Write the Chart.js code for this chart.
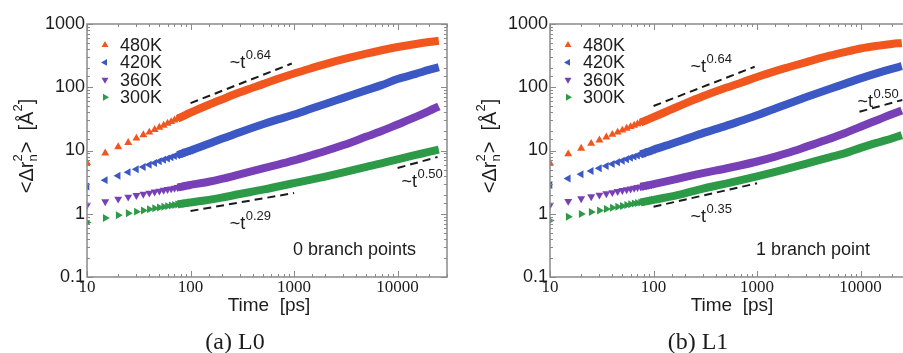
<!DOCTYPE html>
<html><head><meta charset="utf-8">
<script src="https://cdn.jsdelivr.net/npm/chart.js@4/dist/chart.umd.min.js"></script>
<style>
html,body{margin:0;padding:0;background:#fff;overflow:hidden;width:903px;height:353px;}
#wrap{position:relative;width:903px;height:353px;overflow:hidden;background:#fff;}
.pane{position:absolute;top:0;width:452px;height:353px;}
</style></head><body>
<div id="wrap">
<div class="pane" style="left:0px"><canvas id="c0" width="452" height="353"></canvas></div>
<div class="pane" style="left:463px"><canvas id="c1" width="452" height="353"></canvas></div>
</div>
<script>
// ---------- data ----------
const seriesLabels = ['480K', '420K', '360K', '300K'];
const time = [10,15,20,25,30,35,40,45,50,55,60,65,70,75,80,85,90,95,100,
              150,200,300,500,700,1000,1500,2000,3000,5000,7000,10000,15000,20000,25000];
// Panel (a) L0
const L0_480 = [6.4,9.1,11.4,13.3,15.6,17.6,19.4,21.4,23.2,25.0,26.8,28.5,30.2,31.9,33.5,35.1,36.7,38.3,39.8,
                53,64,83,112,136,165,202,232,278,341,385,432,484,518,542];
const L0_420 = [2.7,3.4,4.0,4.55,5.05,5.5,5.95,6.35,6.75,7.15,7.5,7.85,8.2,8.5,8.8,9.15,9.45,9.75,10.0,
                12.8,15.3,19.5,26,31,37,46.5,54.5,68,90,108,135,163,188,208];
const L0_360 = [1.37,1.56,1.71,1.84,1.95,2.04,2.13,2.22,2.29,2.36,2.43,2.49,2.55,2.61,2.66,2.72,2.77,2.82,2.86,
                3.2,3.55,4.2,5.2,6.0,7.0,8.5,9.8,12.2,16.6,20.3,25.8,34,42,50];
const L0_300 = [0.73,0.86,0.95,1.02,1.08,1.13,1.18,1.22,1.26,1.29,1.32,1.35,1.38,1.40,1.43,1.45,1.47,1.49,1.51,
                1.66,1.80,2.05,2.4,2.7,3.05,3.5,3.87,4.5,5.5,6.25,7.25,8.5,9.5,10.3];
// Panel (b) L1
const L1_480 = [6.3,8.8,10.8,12.9,14.6,16.3,17.9,19.4,20.9,22.3,23.7,25.0,26.3,27.6,28.9,30.1,31.3,32.5,33.7,
                45,55,72,98,118,145,180,207,250,315,360,410,455,483,500];
const L1_420 = [2.85,3.6,4.2,4.75,5.25,5.7,6.1,6.5,6.9,7.3,7.65,8.0,8.35,8.7,9.0,9.35,9.65,9.95,10.3,
                12.8,15,18.8,24.5,29.5,36,46,55,70,94,113,138,170,195,215];
const L1_360 = [1.37,1.58,1.74,1.87,1.98,2.08,2.17,2.26,2.34,2.41,2.48,2.55,2.61,2.67,2.73,2.79,2.84,2.89,2.94,
                3.4,3.8,4.4,5.2,5.85,6.7,8.0,9.2,11.5,15.3,18.7,23.8,31,37.5,43];
const L1_300 = [0.78,0.9,0.99,1.07,1.13,1.19,1.24,1.29,1.33,1.37,1.41,1.45,1.48,1.51,1.54,1.57,1.60,1.63,1.66,
                1.88,2.1,2.5,3.0,3.4,3.9,4.6,5.2,6.2,7.8,9.0,11.0,13.5,15.5,17.5];
const xTickLabels = ['10', '100', '1000', '10000'];
const yTickLabels = ['0.1', '1', '10', '100', '1000'];
// power-law guide lines (data units) and their labels
const guidesL0 = [
  {t0:100, v0:56, t1:950, v1:237, exp:'0.64', lt:239, lv:201},
  {t0:100, v0:1.105, t1:1000, v1:2.13, exp:'0.29', lt:239, lv:0.574},
  {t0:10000, v0:5.28, t1:24300, v1:7.9, exp:'0.50', lt:10900, lv:2.65}
];
const guidesL1 = [
  {t0:100, v0:50.6, t1:948, v1:211, exp:'0.64', lt:228, lv:174},
  {t0:100, v0:1.29, t1:1000, v1:3.03, exp:'0.35', lt:228, lv:0.74},
  {t0:9750, v0:41, t1:25300, v1:63, exp:'0.50', lt:9330, lv:48.7}
];
const captions = ['(a) L0', '(b) L1'];
const notes = ['0 branch points', '1 branch point'];
const xTitle = 'Time  [ps]';

// ---------- style ----------
const colors = ['#F0561E', '#3C58C4', '#7840B6', '#2C9A46'];
const rotations = [0, 270, 180, 90];
const SANS = "'Liberation Sans', Arial, sans-serif";
const SERIF = "'Liberation Serif', 'Times New Roman', serif";
const TXT = '#1c1c1c';
const AXIS = '#8a8a8a';
const MARK_R = 4.6;

function isPow10(v) { const l = Math.log10(v); return Math.abs(l - Math.round(l)) < 1e-6; }

function drawPanelExtras(chart, panel) {
  const ctx = chart.ctx;
  const a = chart.chartArea;
  const xs = chart.scales.x, ys = chart.scales.y;
  ctx.save();
  // axis ticks inward on four sides
  ctx.strokeStyle = AXIS; ctx.lineWidth = 1;
  ctx.beginPath();
  xs.ticks.forEach(t => {
    const px = Math.round(xs.getPixelForValue(t.value)) + 0.5;
    const len = isPow10(t.value) ? 6 : 3;
    ctx.moveTo(px, a.bottom); ctx.lineTo(px, a.bottom - len);
    ctx.moveTo(px, a.top); ctx.lineTo(px, a.top + len);
  });
  ys.ticks.forEach(t => {
    const py = Math.round(ys.getPixelForValue(t.value)) + 0.5;
    const len = isPow10(t.value) ? 6 : 3;
    ctx.moveTo(a.left, py); ctx.lineTo(a.left + len, py);
    ctx.moveTo(a.right, py); ctx.lineTo(a.right - len, py);
  });
  ctx.stroke();
  // frame
  ctx.lineWidth = 1.5;
  ctx.strokeRect(a.left, a.top, a.right - a.left, a.bottom - a.top);

  // legend
  ctx.textBaseline = 'middle'; ctx.textAlign = 'left';
  seriesLabels.forEach((lab, i) => {
    const yy = a.top + 21 + i * 17.4;
    ctx.fillStyle = colors[i];
    ctx.strokeStyle = colors[i];
    Chart.helpers.drawPoint(ctx, {pointStyle: 'triangle', rotation: rotations[i], radius: 4, borderWidth: 0}, a.left + 18, yy);
    ctx.font = '18px ' + SANS;
    ctx.fillStyle = TXT;
    ctx.fillText(lab, a.left + 33, yy + 1);
  });

  // guides
  ctx.strokeStyle = '#1a1a1a'; ctx.lineWidth = 2; ctx.setLineDash([8, 5]);
  panel.guides.forEach(g => {
    ctx.beginPath();
    ctx.moveTo(xs.getPixelForValue(g.t0), ys.getPixelForValue(g.v0));
    ctx.lineTo(xs.getPixelForValue(g.t1), ys.getPixelForValue(g.v1));
    ctx.stroke();
  });
  ctx.setLineDash([]);
  ctx.fillStyle = TXT; ctx.textBaseline = 'alphabetic';
  panel.guides.forEach(g => {
    const lx = xs.getPixelForValue(g.lt), ly = ys.getPixelForValue(g.lv);
    ctx.font = '18px ' + SANS;
    ctx.fillText('~t', lx, ly);
    const w = ctx.measureText('~t').width;
    ctx.font = '13px ' + SANS;
    ctx.fillText(g.exp, lx + w + 0.5, ly - 9);
  });

  // note
  ctx.font = '18px ' + SANS;
  ctx.fillText(panel.note, a.left + 206, 255);

  // x title
  ctx.textAlign = 'center';
  ctx.font = '19px ' + SANS;
  ctx.fillText(xTitle, a.left + 182, 311);

  // caption
  ctx.font = '24px ' + SERIF;
  ctx.fillText(panel.caption, a.left + 148, 349);

  // y title with sub/superscripts, rotated
  ctx.save();
  ctx.translate(a.left - 54, a.top + 122);
  ctx.rotate(-Math.PI / 2);
  const big = '20px ' + SANS, small = '13px ' + SANS;
  const pieces = [
    {t: '<\u0394r', f: big, dy: 0},
    {t: 'n', f: small, dy: 4, stackWith: '2'},
    {t: '>  [\u00C5', f: big, dy: 0},
    {t: '2', f: small, dy: -11},
    {t: ']', f: big, dy: 0}
  ];
  let W = 0;
  pieces.forEach(p => { ctx.font = p.f; p.w = ctx.measureText(p.t).width + (p.stackWith ? 1 : 0); W += p.w; });
  let x = -W / 2;
  ctx.textAlign = 'left';
  pieces.forEach(p => {
    ctx.font = p.f;
    ctx.fillText(p.t, x, p.dy);
    if (p.stackWith) ctx.fillText(p.stackWith, x, -11);
    x += p.w;
  });
  ctx.restore();
  ctx.restore();
}

function makePanel(canvasId, series, guides, idx) {
  const panel = {guides: guides, note: notes[idx], caption: captions[idx]};
  const datasets = series.map((vals, i) => ({
    label: seriesLabels[i],
    data: time.map((t, k) => ({x: t, y: vals[k]})),
    showLine: true,
    borderColor: colors[i],
    backgroundColor: colors[i],
    borderWidth: 8,
    borderCapStyle: 'butt',
    cubicInterpolationMode: 'monotone',
    pointStyle: 'triangle',
    rotation: rotations[i],
    pointBorderWidth: 0,
    pointRadius: c => (c.raw && c.raw.x <= 100 ? MARK_R : 0),
    segment: {
      borderColor: c => (c.p0.parsed.x >= 75 ? colors[i] : 'rgba(0,0,0,0)')
    }
  }));
  return new Chart(document.getElementById(canvasId), {
    type: 'scatter',
    data: {datasets},
    options: {
      responsive: false,
      animation: false,
      devicePixelRatio: 1,
      layout: {padding: {left: 0, right: 5, top: 24, bottom: 0}},
      plugins: {legend: {display: false}, tooltip: {enabled: false}},
      scales: {
        x: {
          type: 'logarithmic', min: 10, max: 30000,
          grid: {display: false}, border: {display: false},
          ticks: {
            autoSkip: false, maxRotation: 0, padding: -8, color: TXT,
            font: {family: SERIF, size: 17},
            callback: v => (isPow10(v) ? xTickLabels[Math.round(Math.log10(v)) - 1] : '')
          },
          afterFit: s => { s.height = 76; }
        },
        y: {
          type: 'logarithmic', min: 0.1, max: 1000,
          grid: {display: false}, border: {display: false},
          ticks: {
            autoSkip: false, padding: -6, color: TXT,
            font: {family: SANS, size: 18},
            callback: v => (isPow10(v) ? yTickLabels[Math.round(Math.log10(v)) + 1] : '')
          },
          afterFit: s => { s.width = 87; }
        }
      }
    },
    plugins: [{id: 'extras', afterDraw: ch => drawPanelExtras(ch, panel)}]
  });
}

makePanel('c0', [L0_480, L0_420, L0_360, L0_300], guidesL0, 0);
makePanel('c1', [L1_480, L1_420, L1_360, L1_300], guidesL1, 1);
</script>
</body></html>
